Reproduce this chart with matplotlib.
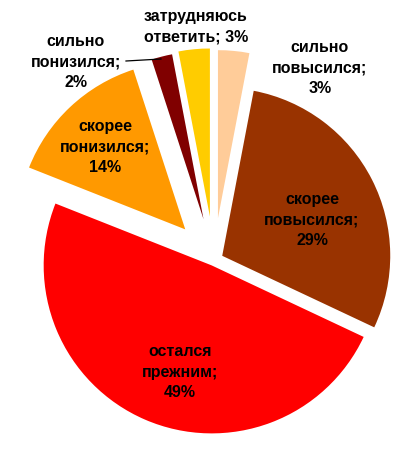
import matplotlib

matplotlib.use("Agg")
import matplotlib.pyplot as plt

labels = ["сильно\nповысился;\n3%", "скорее\nповысился;\n29%", "остался\nпрежним;\n49%",
          "скорее\nпонизился;\n14%", "сильно\nпонизился;\n2%", "затрудняюсь\nответить; 3%"]
values = [3, 29, 49, 14, 2, 3]
colors = ["#FFCC99", "#993300", "#FF0000", "#FF9900", "#800000", "#FFCC00"]
explode_frac = [0.25, 0.055, 0.035, 0.25, 0.25, 0.26]

W, H = 406, 458
RADIUS = 168
CENTER = (214, H - 260)
# label centres in pixel coords (x, y from top)
label_pos = [(320, 68), (312, 220), (180, 372), (105, 147), (76, 62), (196, 27)]

plt.rcParams["font.family"] = ["Liberation Sans", "DejaVu Sans"]

fig = plt.figure(figsize=(W / 100, H / 100), dpi=100)
ax = fig.add_axes([0, 0, 1, 1])
ax.pie(values, colors=colors, startangle=90, counterclock=False,
       explode=[f * RADIUS for f in explode_frac], radius=RADIUS, center=CENTER,
       wedgeprops=dict(linewidth=0), frame=True)
for lab, (x, y) in zip(labels, label_pos):
    ax.text(x, H - y, lab, ha="center", va="center", fontsize=11.5, fontweight="bold",
            linespacing=1.45, color="black")
# leader line for the small "сильно понизился" slice
ax.plot([126, 161], [H - 61, H - 59], color="black", lw=0.9)
ax.set_xlim(0, W)
ax.set_ylim(0, H)
ax.set_aspect("equal")
ax.axis("off")
fig.savefig("out.png", dpi=100, facecolor="white")
